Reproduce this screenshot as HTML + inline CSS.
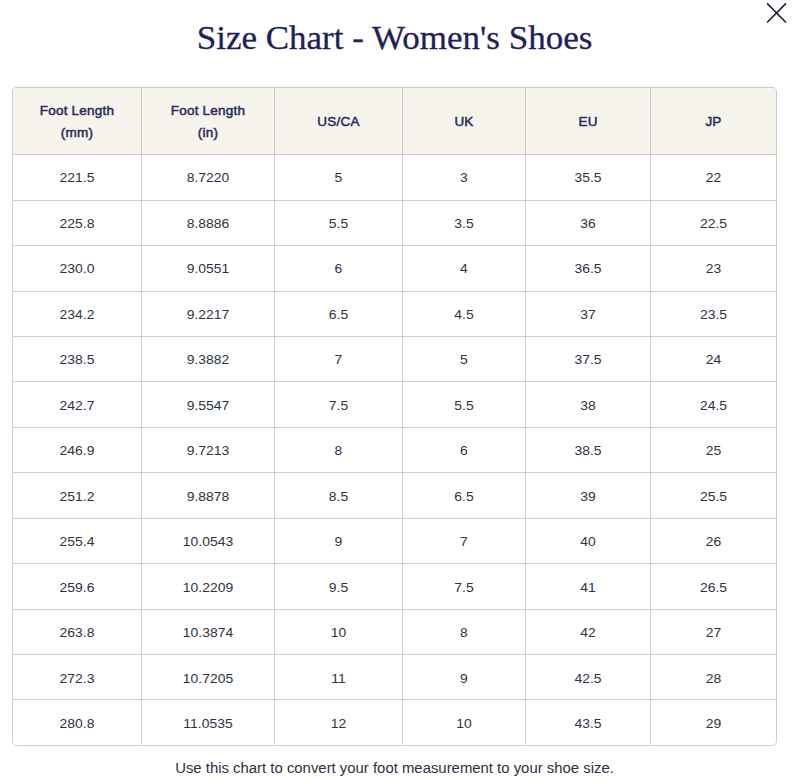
<!DOCTYPE html>
<html><head><meta charset="utf-8"><style>
html,body{margin:0;padding:0;background:#fff;width:796px;height:781px;overflow:hidden;position:relative}
.t{position:absolute;left:0px;top:18px;width:789px;text-align:center;font-family:"Liberation Serif",serif;font-size:35px;line-height:40px;color:#1d2259;-webkit-text-stroke:0.3px #1d2259;transform:scaleY(0.95);transform-origin:50% 30px;white-space:nowrap;letter-spacing:0px}
.box{position:absolute;left:12px;top:87px;width:763px;height:657px;border:1px solid #d0d0d0;border-top-color:#cdc9c4;border-radius:5px;overflow:hidden;background:#fff}
.hd{position:absolute;left:0;top:0;width:763px;height:66px;background:#f7f4ee}
.hl{position:absolute;left:0;width:763px;height:1px;background:#d0d0d0}
.vl{position:absolute;top:0;height:657px;width:1px;background:#d0d0d0}
.c{position:absolute;text-align:center;font-family:"Liberation Sans",sans-serif;white-space:nowrap}
.h{font-weight:normal;-webkit-text-stroke:0.5px #272b5a;transform:scaleX(1.0);font-size:13.5px;line-height:22px;color:#272b5a;letter-spacing:0.2px}
.d{transform:scaleX(1.07);font-size:13px;line-height:20px;color:#2e3343;letter-spacing:0px}
.f{position:absolute;left:0;width:789px;top:758px;text-align:center;font-family:"Liberation Sans",sans-serif;font-size:14.9px;line-height:20px;color:#2e3040;letter-spacing:0px;white-space:nowrap}
</style></head><body>
<div class="t">Size Chart - Women's Shoes</div>
<svg style="position:absolute;left:0;top:0" width="796" height="40"><path d="M767.1 3.35 L786 22.5 M786 3.35 L767.1 22.5" stroke="#1a1b2e" stroke-width="1.5" fill="none"/></svg>
<div class="box">
<div class="hd"></div>
<div class="hl" style="top:66px;background:#ccc9c6"></div>
<div class="hl" style="top:112px"></div>
<div class="hl" style="top:157px"></div>
<div class="hl" style="top:203px"></div>
<div class="hl" style="top:248px"></div>
<div class="hl" style="top:293px"></div>
<div class="hl" style="top:339px"></div>
<div class="hl" style="top:384px"></div>
<div class="hl" style="top:430px"></div>
<div class="hl" style="top:475px"></div>
<div class="hl" style="top:521px"></div>
<div class="hl" style="top:566px"></div>
<div class="hl" style="top:611px"></div>
<div class="vl" style="left:128px"></div>
<div class="vl" style="left:128px;height:66px;background:#cdc9c4"></div>
<div class="vl" style="left:261px"></div>
<div class="vl" style="left:261px;height:66px;background:#cdc9c4"></div>
<div class="vl" style="left:389px"></div>
<div class="vl" style="left:389px;height:66px;background:#cdc9c4"></div>
<div class="vl" style="left:512px"></div>
<div class="vl" style="left:512px;height:66px;background:#cdc9c4"></div>
<div class="vl" style="left:637px"></div>
<div class="vl" style="left:637px;height:66px;background:#cdc9c4"></div>
<div class="c h" style="left:0px;width:128px;top:11.5px">Foot Length<br>(mm)</div>
<div class="c h" style="left:129px;width:132px;top:11.5px">Foot Length<br>(in)</div>
<div class="c h" style="left:262px;width:127px;top:23px">US/CA</div>
<div class="c h" style="left:390px;width:122px;top:23px">UK</div>
<div class="c h" style="left:513px;width:124px;top:23px">EU</div>
<div class="c h" style="left:638px;width:125px;top:23px">JP</div>
<div class="c d" style="left:0px;width:128px;top:80px">221.5</div>
<div class="c d" style="left:129px;width:132px;top:80px">8.7220</div>
<div class="c d" style="left:262px;width:127px;top:80px">5</div>
<div class="c d" style="left:390px;width:122px;top:80px">3</div>
<div class="c d" style="left:513px;width:124px;top:80px">35.5</div>
<div class="c d" style="left:638px;width:125px;top:80px">22</div>
<div class="c d" style="left:0px;width:128px;top:126px">225.8</div>
<div class="c d" style="left:129px;width:132px;top:126px">8.8886</div>
<div class="c d" style="left:262px;width:127px;top:126px">5.5</div>
<div class="c d" style="left:390px;width:122px;top:126px">3.5</div>
<div class="c d" style="left:513px;width:124px;top:126px">36</div>
<div class="c d" style="left:638px;width:125px;top:126px">22.5</div>
<div class="c d" style="left:0px;width:128px;top:171px">230.0</div>
<div class="c d" style="left:129px;width:132px;top:171px">9.0551</div>
<div class="c d" style="left:262px;width:127px;top:171px">6</div>
<div class="c d" style="left:390px;width:122px;top:171px">4</div>
<div class="c d" style="left:513px;width:124px;top:171px">36.5</div>
<div class="c d" style="left:638px;width:125px;top:171px">23</div>
<div class="c d" style="left:0px;width:128px;top:217px">234.2</div>
<div class="c d" style="left:129px;width:132px;top:217px">9.2217</div>
<div class="c d" style="left:262px;width:127px;top:217px">6.5</div>
<div class="c d" style="left:390px;width:122px;top:217px">4.5</div>
<div class="c d" style="left:513px;width:124px;top:217px">37</div>
<div class="c d" style="left:638px;width:125px;top:217px">23.5</div>
<div class="c d" style="left:0px;width:128px;top:262px">238.5</div>
<div class="c d" style="left:129px;width:132px;top:262px">9.3882</div>
<div class="c d" style="left:262px;width:127px;top:262px">7</div>
<div class="c d" style="left:390px;width:122px;top:262px">5</div>
<div class="c d" style="left:513px;width:124px;top:262px">37.5</div>
<div class="c d" style="left:638px;width:125px;top:262px">24</div>
<div class="c d" style="left:0px;width:128px;top:308px">242.7</div>
<div class="c d" style="left:129px;width:132px;top:308px">9.5547</div>
<div class="c d" style="left:262px;width:127px;top:308px">7.5</div>
<div class="c d" style="left:390px;width:122px;top:308px">5.5</div>
<div class="c d" style="left:513px;width:124px;top:308px">38</div>
<div class="c d" style="left:638px;width:125px;top:308px">24.5</div>
<div class="c d" style="left:0px;width:128px;top:353px">246.9</div>
<div class="c d" style="left:129px;width:132px;top:353px">9.7213</div>
<div class="c d" style="left:262px;width:127px;top:353px">8</div>
<div class="c d" style="left:390px;width:122px;top:353px">6</div>
<div class="c d" style="left:513px;width:124px;top:353px">38.5</div>
<div class="c d" style="left:638px;width:125px;top:353px">25</div>
<div class="c d" style="left:0px;width:128px;top:399px">251.2</div>
<div class="c d" style="left:129px;width:132px;top:399px">9.8878</div>
<div class="c d" style="left:262px;width:127px;top:399px">8.5</div>
<div class="c d" style="left:390px;width:122px;top:399px">6.5</div>
<div class="c d" style="left:513px;width:124px;top:399px">39</div>
<div class="c d" style="left:638px;width:125px;top:399px">25.5</div>
<div class="c d" style="left:0px;width:128px;top:444px">255.4</div>
<div class="c d" style="left:129px;width:132px;top:444px">10.0543</div>
<div class="c d" style="left:262px;width:127px;top:444px">9</div>
<div class="c d" style="left:390px;width:122px;top:444px">7</div>
<div class="c d" style="left:513px;width:124px;top:444px">40</div>
<div class="c d" style="left:638px;width:125px;top:444px">26</div>
<div class="c d" style="left:0px;width:128px;top:490px">259.6</div>
<div class="c d" style="left:129px;width:132px;top:490px">10.2209</div>
<div class="c d" style="left:262px;width:127px;top:490px">9.5</div>
<div class="c d" style="left:390px;width:122px;top:490px">7.5</div>
<div class="c d" style="left:513px;width:124px;top:490px">41</div>
<div class="c d" style="left:638px;width:125px;top:490px">26.5</div>
<div class="c d" style="left:0px;width:128px;top:535px">263.8</div>
<div class="c d" style="left:129px;width:132px;top:535px">10.3874</div>
<div class="c d" style="left:262px;width:127px;top:535px">10</div>
<div class="c d" style="left:390px;width:122px;top:535px">8</div>
<div class="c d" style="left:513px;width:124px;top:535px">42</div>
<div class="c d" style="left:638px;width:125px;top:535px">27</div>
<div class="c d" style="left:0px;width:128px;top:581px">272.3</div>
<div class="c d" style="left:129px;width:132px;top:581px">10.7205</div>
<div class="c d" style="left:262px;width:127px;top:581px">11</div>
<div class="c d" style="left:390px;width:122px;top:581px">9</div>
<div class="c d" style="left:513px;width:124px;top:581px">42.5</div>
<div class="c d" style="left:638px;width:125px;top:581px">28</div>
<div class="c d" style="left:0px;width:128px;top:626px">280.8</div>
<div class="c d" style="left:129px;width:132px;top:626px">11.0535</div>
<div class="c d" style="left:262px;width:127px;top:626px">12</div>
<div class="c d" style="left:390px;width:122px;top:626px">10</div>
<div class="c d" style="left:513px;width:124px;top:626px">43.5</div>
<div class="c d" style="left:638px;width:125px;top:626px">29</div>
</div>
<div style="position:absolute;left:12px;top:92px;width:1px;height:62px;background:#cdc9c4"></div><div style="position:absolute;left:776px;top:92px;width:1px;height:62px;background:#cdc9c4"></div>
<div class="f">Use this chart to convert your foot measurement to your shoe size.</div>
</body></html>
